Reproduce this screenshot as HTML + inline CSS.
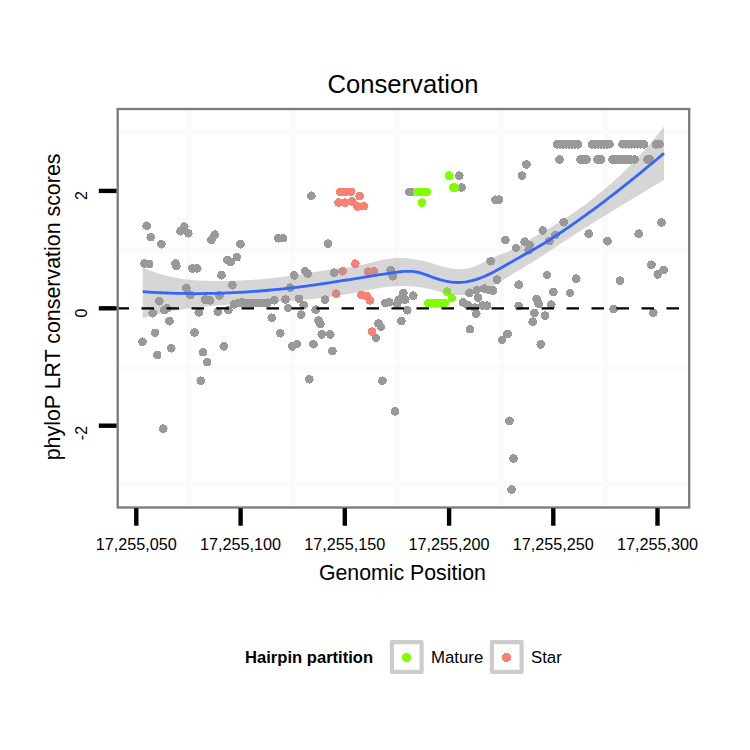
<!DOCTYPE html>
<html><head><meta charset="utf-8"><title>Conservation</title>
<style>html,body{margin:0;padding:0;background:#fff;width:750px;height:750px;overflow:hidden}svg{display:block}</style>
</head><body>
<svg width="750" height="750" viewBox="0 0 750 750">
<rect width="750" height="750" fill="#fff"/>
<g stroke="#fafafa" stroke-width="5"><line x1="188.4" y1="109.0" x2="188.4" y2="507.5"/><line x1="292.7" y1="109.0" x2="292.7" y2="507.5"/><line x1="397.0" y1="109.0" x2="397.0" y2="507.5"/><line x1="501.2" y1="109.0" x2="501.2" y2="507.5"/><line x1="605.4" y1="109.0" x2="605.4" y2="507.5"/><line x1="117.7" y1="132.2" x2="689.2" y2="132.2"/><line x1="117.7" y1="249.6" x2="689.2" y2="249.6"/><line x1="117.7" y1="367.0" x2="689.2" y2="367.0"/><line x1="117.7" y1="484.4" x2="689.2" y2="484.4"/></g>
<g fill="#999999" shape-rendering="crispEdges"><circle cx="146.7" cy="225.8" r="4.35"/>
<circle cx="150.8" cy="237.2" r="4.35"/>
<circle cx="161.3" cy="244.2" r="4.35"/>
<circle cx="184.3" cy="226.7" r="4.35"/>
<circle cx="180.5" cy="231.3" r="4.35"/>
<circle cx="188.3" cy="233.3" r="4.35"/>
<circle cx="214.7" cy="234.7" r="4.35"/>
<circle cx="211.3" cy="240.0" r="4.35"/>
<circle cx="240.5" cy="244.2" r="4.35"/>
<circle cx="144.4" cy="263.6" r="4.35"/>
<circle cx="149.2" cy="264.1" r="4.35"/>
<circle cx="175.6" cy="263.6" r="4.35"/>
<circle cx="176.4" cy="266.0" r="4.35"/>
<circle cx="192.4" cy="268.4" r="4.35"/>
<circle cx="197.2" cy="268.4" r="4.35"/>
<circle cx="227.3" cy="259.9" r="4.35"/>
<circle cx="230.8" cy="262.0" r="4.35"/>
<circle cx="236.9" cy="257.2" r="4.35"/>
<circle cx="221.5" cy="275.3" r="4.35"/>
<circle cx="186.3" cy="288.0" r="4.35"/>
<circle cx="190.5" cy="294.8" r="4.35"/>
<circle cx="232.4" cy="285.2" r="4.35"/>
<circle cx="159.3" cy="301.2" r="4.35"/>
<circle cx="166.8" cy="308.4" r="4.35"/>
<circle cx="164.4" cy="310.0" r="4.35"/>
<circle cx="152.7" cy="313.2" r="4.35"/>
<circle cx="169.5" cy="321.2" r="4.35"/>
<circle cx="205.2" cy="299.6" r="4.35"/>
<circle cx="210.0" cy="300.4" r="4.35"/>
<circle cx="219.6" cy="295.6" r="4.35"/>
<circle cx="198.8" cy="312.4" r="4.35"/>
<circle cx="217.7" cy="311.6" r="4.35"/>
<circle cx="228.4" cy="310.0" r="4.35"/>
<circle cx="234.0" cy="304.4" r="4.35"/>
<circle cx="242.0" cy="302.0" r="4.35"/>
<circle cx="155.1" cy="332.9" r="4.35"/>
<circle cx="194.5" cy="332.4" r="4.35"/>
<circle cx="142.5" cy="341.7" r="4.35"/>
<circle cx="171.3" cy="348.3" r="4.35"/>
<circle cx="157.2" cy="355.0" r="4.35"/>
<circle cx="223.8" cy="346.3" r="4.35"/>
<circle cx="203.0" cy="352.2" r="4.35"/>
<circle cx="207.2" cy="362.2" r="4.35"/>
<circle cx="200.8" cy="380.8" r="4.35"/>
<circle cx="163.3" cy="428.7" r="4.35"/>
<circle cx="239.0" cy="302.8" r="4.35"/>
<circle cx="243.0" cy="302.8" r="4.35"/>
<circle cx="247.0" cy="302.8" r="4.35"/>
<circle cx="251.0" cy="302.8" r="4.35"/>
<circle cx="255.0" cy="302.8" r="4.35"/>
<circle cx="259.0" cy="302.8" r="4.35"/>
<circle cx="263.0" cy="302.8" r="4.35"/>
<circle cx="267.5" cy="302.8" r="4.35"/>
<circle cx="274.3" cy="300.3" r="4.35"/>
<circle cx="285.5" cy="299.5" r="4.35"/>
<circle cx="299.0" cy="298.8" r="4.35"/>
<circle cx="303.7" cy="305.0" r="4.35"/>
<circle cx="288.0" cy="308.0" r="4.35"/>
<circle cx="301.2" cy="314.7" r="4.35"/>
<circle cx="315.7" cy="309.7" r="4.35"/>
<circle cx="271.8" cy="317.8" r="4.35"/>
<circle cx="318.5" cy="320.5" r="4.35"/>
<circle cx="320.3" cy="324.0" r="4.35"/>
<circle cx="280.3" cy="333.3" r="4.35"/>
<circle cx="292.3" cy="346.4" r="4.35"/>
<circle cx="297.0" cy="344.0" r="4.35"/>
<circle cx="313.4" cy="344.3" r="4.35"/>
<circle cx="321.7" cy="334.4" r="4.35"/>
<circle cx="330.3" cy="334.4" r="4.35"/>
<circle cx="332.3" cy="351.0" r="4.35"/>
<circle cx="309.3" cy="379.3" r="4.35"/>
<circle cx="278.3" cy="238.3" r="4.35"/>
<circle cx="283.0" cy="238.1" r="4.35"/>
<circle cx="328.1" cy="243.7" r="4.35"/>
<circle cx="311.3" cy="195.8" r="4.35"/>
<circle cx="294.3" cy="275.4" r="4.35"/>
<circle cx="305.0" cy="271.0" r="4.35"/>
<circle cx="307.7" cy="273.7" r="4.35"/>
<circle cx="334.3" cy="272.7" r="4.35"/>
<circle cx="290.3" cy="287.7" r="4.35"/>
<circle cx="325.0" cy="299.7" r="4.35"/>
<circle cx="390.7" cy="270.3" r="4.35"/>
<circle cx="392.7" cy="276.3" r="4.35"/>
<circle cx="385.3" cy="303.0" r="4.35"/>
<circle cx="389.3" cy="302.3" r="4.35"/>
<circle cx="398.7" cy="299.7" r="4.35"/>
<circle cx="403.3" cy="293.0" r="4.35"/>
<circle cx="405.3" cy="299.7" r="4.35"/>
<circle cx="413.3" cy="295.7" r="4.35"/>
<circle cx="397.3" cy="303.7" r="4.35"/>
<circle cx="407.3" cy="310.3" r="4.35"/>
<circle cx="378.4" cy="323.5" r="4.35"/>
<circle cx="381.0" cy="327.0" r="4.35"/>
<circle cx="401.3" cy="321.0" r="4.35"/>
<circle cx="376.0" cy="338.0" r="4.35"/>
<circle cx="382.4" cy="380.7" r="4.35"/>
<circle cx="394.9" cy="411.3" r="4.35"/>
<circle cx="409.5" cy="192.0" r="4.35"/>
<circle cx="411.5" cy="192.0" r="4.35"/>
<circle cx="459.3" cy="175.7" r="4.35"/>
<circle cx="461.6" cy="187.6" r="4.35"/>
<circle cx="495.5" cy="199.7" r="4.35"/>
<circle cx="499.0" cy="199.7" r="4.35"/>
<circle cx="526.4" cy="164.4" r="4.35"/>
<circle cx="522.1" cy="175.7" r="4.35"/>
<circle cx="542.7" cy="230.5" r="4.35"/>
<circle cx="490.7" cy="261.3" r="4.35"/>
<circle cx="497.0" cy="279.7" r="4.35"/>
<circle cx="505.3" cy="240.0" r="4.35"/>
<circle cx="516.0" cy="248.0" r="4.35"/>
<circle cx="518.7" cy="284.7" r="4.35"/>
<circle cx="518.7" cy="306.0" r="4.35"/>
<circle cx="469.4" cy="292.8" r="4.35"/>
<circle cx="476.9" cy="290.1" r="4.35"/>
<circle cx="484.3" cy="288.5" r="4.35"/>
<circle cx="489.7" cy="290.1" r="4.35"/>
<circle cx="493.0" cy="290.5" r="4.35"/>
<circle cx="477.9" cy="297.6" r="4.35"/>
<circle cx="463.0" cy="302.4" r="4.35"/>
<circle cx="468.3" cy="305.6" r="4.35"/>
<circle cx="474.7" cy="307.7" r="4.35"/>
<circle cx="476.3" cy="313.6" r="4.35"/>
<circle cx="482.5" cy="305.6" r="4.35"/>
<circle cx="487.0" cy="305.6" r="4.35"/>
<circle cx="470.0" cy="329.2" r="4.35"/>
<circle cx="507.5" cy="334.0" r="4.35"/>
<circle cx="502.0" cy="340.0" r="4.35"/>
<circle cx="524.7" cy="241.7" r="4.35"/>
<circle cx="530.0" cy="245.0" r="4.35"/>
<circle cx="528.7" cy="250.3" r="4.35"/>
<circle cx="536.7" cy="299.0" r="4.35"/>
<circle cx="538.7" cy="303.7" r="4.35"/>
<circle cx="534.4" cy="313.0" r="4.35"/>
<circle cx="532.7" cy="321.7" r="4.35"/>
<circle cx="540.7" cy="344.4" r="4.35"/>
<circle cx="509.5" cy="420.8" r="4.35"/>
<circle cx="513.5" cy="458.4" r="4.35"/>
<circle cx="511.6" cy="489.6" r="4.35"/>
<circle cx="563.7" cy="222.3" r="4.35"/>
<circle cx="555.3" cy="235.0" r="4.35"/>
<circle cx="549.3" cy="241.0" r="4.35"/>
<circle cx="547.0" cy="275.0" r="4.35"/>
<circle cx="553.3" cy="292.0" r="4.35"/>
<circle cx="570.0" cy="293.0" r="4.35"/>
<circle cx="551.3" cy="304.7" r="4.35"/>
<circle cx="545.0" cy="315.7" r="4.35"/>
<circle cx="576.3" cy="278.7" r="4.35"/>
<circle cx="588.7" cy="233.7" r="4.35"/>
<circle cx="607.5" cy="241.2" r="4.35"/>
<circle cx="638.7" cy="233.7" r="4.35"/>
<circle cx="661.5" cy="222.4" r="4.35"/>
<circle cx="651.4" cy="264.7" r="4.35"/>
<circle cx="663.7" cy="270.0" r="4.35"/>
<circle cx="657.7" cy="274.4" r="4.35"/>
<circle cx="620.0" cy="280.7" r="4.35"/>
<circle cx="613.7" cy="309.1" r="4.35"/>
<circle cx="653.3" cy="312.7" r="4.35"/>
<circle cx="559.6" cy="159.6" r="4.35"/>
<circle cx="557.0" cy="144.3" r="4.35"/>
<circle cx="560.0" cy="144.3" r="4.35"/>
<circle cx="563.0" cy="144.3" r="4.35"/>
<circle cx="566.0" cy="144.3" r="4.35"/>
<circle cx="569.0" cy="144.3" r="4.35"/>
<circle cx="572.0" cy="144.3" r="4.35"/>
<circle cx="575.0" cy="144.3" r="4.35"/>
<circle cx="578.0" cy="144.3" r="4.35"/>
<circle cx="592.0" cy="144.3" r="4.35"/>
<circle cx="595.0" cy="144.3" r="4.35"/>
<circle cx="598.0" cy="144.3" r="4.35"/>
<circle cx="601.0" cy="144.3" r="4.35"/>
<circle cx="604.0" cy="144.3" r="4.35"/>
<circle cx="607.0" cy="144.3" r="4.35"/>
<circle cx="609.5" cy="144.3" r="4.35"/>
<circle cx="622.5" cy="144.3" r="4.35"/>
<circle cx="625.5" cy="144.3" r="4.35"/>
<circle cx="628.5" cy="144.3" r="4.35"/>
<circle cx="631.5" cy="144.3" r="4.35"/>
<circle cx="634.5" cy="144.3" r="4.35"/>
<circle cx="637.5" cy="144.3" r="4.35"/>
<circle cx="640.5" cy="144.3" r="4.35"/>
<circle cx="644.0" cy="144.3" r="4.35"/>
<circle cx="656.0" cy="144.3" r="4.35"/>
<circle cx="659.5" cy="144.3" r="4.35"/>
<circle cx="580.5" cy="159.5" r="4.35"/>
<circle cx="583.5" cy="159.5" r="4.35"/>
<circle cx="586.5" cy="159.5" r="4.35"/>
<circle cx="597.5" cy="159.5" r="4.35"/>
<circle cx="601.0" cy="159.5" r="4.35"/>
<circle cx="612.5" cy="159.5" r="4.35"/>
<circle cx="615.5" cy="159.5" r="4.35"/>
<circle cx="618.5" cy="159.5" r="4.35"/>
<circle cx="621.5" cy="159.5" r="4.35"/>
<circle cx="624.5" cy="159.5" r="4.35"/>
<circle cx="627.5" cy="159.5" r="4.35"/>
<circle cx="630.5" cy="159.5" r="4.35"/>
<circle cx="634.5" cy="159.5" r="4.35"/>
<circle cx="647.5" cy="159.5" r="4.35"/>
<circle cx="650.0" cy="159.5" r="4.35"/></g>
<g fill="#fa8072" shape-rendering="crispEdges"><circle cx="340.5" cy="191.9" r="4.35"/>
<circle cx="345.5" cy="191.9" r="4.35"/>
<circle cx="351.0" cy="191.9" r="4.35"/>
<circle cx="359.6" cy="196.0" r="4.35"/>
<circle cx="338.6" cy="202.6" r="4.35"/>
<circle cx="345.0" cy="202.6" r="4.35"/>
<circle cx="352.2" cy="201.4" r="4.35"/>
<circle cx="357.4" cy="206.6" r="4.35"/>
<circle cx="363.8" cy="206.2" r="4.35"/>
<circle cx="355.3" cy="263.7" r="4.35"/>
<circle cx="342.7" cy="271.2" r="4.35"/>
<circle cx="368.0" cy="271.7" r="4.35"/>
<circle cx="374.0" cy="271.0" r="4.35"/>
<circle cx="336.3" cy="293.7" r="4.35"/>
<circle cx="361.3" cy="295.0" r="4.35"/>
<circle cx="366.7" cy="296.3" r="4.35"/>
<circle cx="370.0" cy="300.3" r="4.35"/>
<circle cx="372.0" cy="331.6" r="4.35"/></g>
<g fill="#7fff00" shape-rendering="crispEdges"><circle cx="417.5" cy="192.0" r="4.35"/>
<circle cx="420.5" cy="192.0" r="4.35"/>
<circle cx="423.5" cy="192.0" r="4.35"/>
<circle cx="426.5" cy="192.0" r="4.35"/>
<circle cx="422.0" cy="202.7" r="4.35"/>
<circle cx="449.3" cy="175.7" r="4.35"/>
<circle cx="453.5" cy="187.6" r="4.35"/>
<circle cx="455.0" cy="187.6" r="4.35"/>
<circle cx="428.5" cy="303.2" r="4.35"/>
<circle cx="431.5" cy="303.2" r="4.35"/>
<circle cx="434.5" cy="303.2" r="4.35"/>
<circle cx="437.5" cy="303.2" r="4.35"/>
<circle cx="440.5" cy="303.2" r="4.35"/>
<circle cx="444.5" cy="303.2" r="4.35"/>
<circle cx="447.0" cy="291.7" r="4.35"/>
<circle cx="451.8" cy="298.1" r="4.35"/></g>
<path d="M142.70,267.52 L145.70,268.83 L148.70,270.06 L151.70,271.20 L154.70,272.27 L157.70,273.26 L160.70,274.17 L163.70,275.02 L166.70,275.80 L169.70,276.51 L172.70,277.16 L175.70,277.75 L178.70,278.28 L181.70,278.75 L184.70,279.17 L187.70,279.54 L190.70,279.87 L193.70,280.14 L196.70,280.38 L199.70,280.57 L202.70,280.73 L205.70,280.85 L208.70,280.94 L211.70,281.00 L214.70,281.04 L217.70,281.04 L220.70,281.03 L223.70,281.00 L226.70,280.94 L229.70,280.87 L232.70,280.79 L235.70,280.68 L238.70,280.56 L241.70,280.42 L244.70,280.27 L247.70,280.10 L250.70,279.91 L253.70,279.70 L256.70,279.48 L259.70,279.24 L262.70,278.99 L265.70,278.72 L268.70,278.43 L271.70,278.13 L274.70,277.81 L277.70,277.47 L280.70,277.12 L283.70,276.75 L286.70,276.37 L289.70,275.97 L292.70,275.56 L295.70,275.13 L298.70,274.68 L301.70,274.22 L304.70,273.75 L307.70,273.26 L310.70,272.75 L313.70,272.23 L316.70,271.71 L319.70,271.18 L322.70,270.67 L325.70,270.17 L328.70,269.70 L331.70,269.28 L334.70,268.89 L337.70,268.54 L340.70,268.21 L343.70,267.88 L346.70,267.53 L349.70,267.14 L352.70,266.69 L355.70,266.16 L358.70,265.55 L361.70,264.89 L364.70,264.18 L367.70,263.44 L370.70,262.69 L373.70,261.94 L376.70,261.21 L379.70,260.52 L382.70,259.87 L385.70,259.30 L388.70,258.81 L391.70,258.41 L394.70,258.14 L397.70,257.99 L400.70,257.95 L403.70,258.04 L406.70,258.23 L409.70,258.53 L412.70,258.92 L415.70,259.40 L418.70,259.97 L421.70,260.61 L424.70,261.33 L427.70,262.11 L430.70,262.96 L433.70,263.85 L436.70,264.77 L439.70,265.67 L442.70,266.53 L445.70,267.33 L448.70,268.03 L451.70,268.60 L454.70,269.01 L457.70,269.23 L460.70,269.25 L463.70,269.03 L466.70,268.60 L469.70,267.95 L472.70,267.08 L475.70,266.00 L478.70,264.72 L481.70,263.29 L484.70,261.78 L487.70,260.24 L490.70,258.72 L493.70,257.28 L496.70,255.97 L499.70,254.78 L502.70,253.68 L505.70,252.58 L508.70,251.39 L511.70,250.06 L514.70,248.58 L517.70,246.94 L520.70,245.13 L523.70,243.22 L526.70,241.31 L529.70,239.45 L532.70,237.70 L535.70,236.01 L538.70,234.37 L541.70,232.74 L544.70,231.10 L547.70,229.35 L550.70,227.55 L553.70,225.73 L556.70,223.87 L559.70,221.99 L562.70,220.07 L565.70,218.12 L568.70,216.13 L571.70,214.11 L574.70,212.05 L577.70,209.95 L580.70,207.81 L583.70,205.63 L586.70,203.41 L589.70,201.14 L592.70,198.82 L595.70,196.46 L598.70,194.05 L601.70,191.58 L604.70,189.07 L607.70,186.50 L610.70,183.88 L613.70,181.20 L616.70,178.46 L619.70,175.67 L622.70,172.81 L625.70,169.89 L628.70,166.91 L631.70,163.86 L634.70,160.75 L637.70,157.57 L640.70,154.32 L643.70,151.00 L646.70,147.61 L649.70,144.14 L652.70,140.60 L655.70,136.99 L658.70,133.29 L661.70,129.52 L664.00,126.58 L664.00,179.98 L661.70,181.36 L658.70,183.16 L655.70,184.96 L652.70,186.76 L649.70,188.56 L646.70,190.35 L643.70,192.15 L640.70,193.95 L637.70,195.74 L634.70,197.54 L631.70,199.34 L628.70,201.15 L625.70,202.95 L622.70,204.76 L619.70,206.58 L616.70,208.39 L613.70,210.22 L610.70,212.04 L607.70,213.88 L604.70,215.71 L601.70,217.56 L598.70,219.41 L595.70,221.27 L592.70,223.14 L589.70,225.02 L586.70,226.90 L583.70,228.80 L580.70,230.70 L577.70,232.62 L574.70,234.55 L571.70,236.49 L568.70,238.44 L565.70,240.40 L562.70,242.37 L559.70,244.36 L556.70,246.36 L553.70,248.36 L550.70,250.37 L547.70,252.38 L544.70,254.38 L541.70,256.31 L538.70,258.20 L535.70,260.06 L532.70,261.91 L529.70,263.73 L526.70,265.56 L523.70,267.38 L520.70,269.21 L517.70,271.04 L514.70,272.87 L511.70,274.71 L508.70,276.55 L505.70,278.38 L502.70,280.20 L499.70,281.96 L496.70,283.66 L493.70,285.27 L490.70,286.81 L487.70,288.24 L484.70,289.57 L481.70,290.79 L478.70,291.88 L475.70,292.83 L472.70,293.64 L469.70,294.29 L466.70,294.78 L463.70,295.09 L460.70,295.21 L457.70,295.14 L454.70,294.88 L451.70,294.46 L448.70,293.90 L445.70,293.23 L442.70,292.49 L439.70,291.71 L436.70,290.91 L433.70,290.11 L430.70,289.36 L427.70,288.68 L424.70,288.08 L421.70,287.55 L418.70,287.10 L415.70,286.73 L412.70,286.43 L409.70,286.21 L406.70,286.06 L403.70,285.99 L400.70,285.99 L397.70,286.07 L394.70,286.23 L391.70,286.45 L388.70,286.75 L385.70,287.11 L382.70,287.52 L379.70,287.98 L376.70,288.48 L373.70,289.02 L370.70,289.58 L367.70,290.17 L364.70,290.76 L361.70,291.36 L358.70,291.96 L355.70,292.55 L352.70,293.13 L349.70,293.69 L346.70,294.23 L343.70,294.75 L340.70,295.25 L337.70,295.73 L334.70,296.19 L331.70,296.64 L328.70,297.06 L325.70,297.47 L322.70,297.86 L319.70,298.23 L316.70,298.58 L313.70,298.92 L310.70,299.24 L307.70,299.54 L304.70,299.82 L301.70,300.09 L298.70,300.34 L295.70,300.58 L292.70,300.81 L289.70,301.03 L286.70,301.24 L283.70,301.43 L280.70,301.62 L277.70,301.80 L274.70,301.97 L271.70,302.14 L268.70,302.31 L265.70,302.47 L262.70,302.63 L259.70,302.78 L256.70,302.94 L253.70,303.09 L250.70,303.25 L247.70,303.41 L244.70,303.58 L241.70,303.74 L238.70,303.92 L235.70,304.10 L232.70,304.28 L229.70,304.48 L226.70,304.68 L223.70,304.90 L220.70,305.13 L217.70,305.36 L214.70,305.62 L211.70,305.88 L208.70,306.17 L205.70,306.46 L202.70,306.78 L199.70,307.11 L196.70,307.47 L193.70,307.84 L190.70,308.23 L187.70,308.65 L184.70,309.09 L181.70,309.56 L178.70,310.05 L175.70,310.56 L172.70,311.10 L169.70,311.68 L166.70,312.28 L163.70,312.91 L160.70,313.57 L157.70,314.26 L154.70,314.99 L151.70,315.75 L148.70,316.55 L145.70,317.38 L142.70,318.25 Z" fill="#999999" fill-opacity="0.4"/>
<path d="M142.70,291.70 L145.70,291.91 L148.70,292.10 L151.70,292.28 L154.70,292.45 L157.70,292.61 L160.70,292.75 L163.70,292.88 L166.70,293.00 L169.70,293.11 L172.70,293.21 L175.70,293.29 L178.70,293.36 L181.70,293.43 L184.70,293.47 L187.70,293.51 L190.70,293.54 L193.70,293.55 L196.70,293.55 L199.70,293.55 L202.70,293.53 L205.70,293.49 L208.70,293.45 L211.70,293.40 L214.70,293.33 L217.70,293.25 L220.70,293.16 L223.70,293.06 L226.70,292.95 L229.70,292.83 L232.70,292.70 L235.70,292.55 L238.70,292.40 L241.70,292.23 L244.70,292.06 L247.70,291.87 L250.70,291.67 L253.70,291.46 L256.70,291.24 L259.70,291.01 L262.70,290.77 L265.70,290.51 L268.70,290.25 L271.70,289.98 L274.70,289.69 L277.70,289.40 L280.70,289.09 L283.70,288.78 L286.70,288.45 L289.70,288.12 L292.70,287.77 L295.70,287.41 L298.70,287.05 L301.70,286.67 L304.70,286.28 L307.70,285.89 L310.70,285.48 L313.70,285.06 L316.70,284.63 L319.70,284.20 L322.70,283.76 L325.70,283.31 L328.70,282.85 L331.70,282.38 L334.70,281.92 L337.70,281.44 L340.70,280.97 L343.70,280.49 L346.70,280.00 L349.70,279.52 L352.70,279.03 L355.70,278.55 L358.70,278.06 L361.70,277.58 L364.70,277.09 L367.70,276.61 L370.70,276.14 L373.70,275.66 L376.70,275.19 L379.70,274.73 L382.70,274.27 L385.70,273.82 L388.70,273.37 L391.70,272.94 L394.70,272.51 L397.70,272.10 L400.70,271.74 L403.70,271.46 L406.70,271.30 L409.70,271.28 L412.70,271.44 L415.70,271.81 L418.70,272.42 L421.70,273.28 L424.70,274.30 L427.70,275.42 L430.70,276.54 L433.70,277.62 L436.70,278.62 L439.70,279.55 L442.70,280.37 L445.70,281.08 L448.70,281.66 L451.70,282.10 L454.70,282.39 L457.70,282.51 L460.70,282.44 L463.70,282.19 L466.70,281.77 L469.70,281.18 L472.70,280.45 L475.70,279.57 L478.70,278.57 L481.70,277.44 L484.70,276.20 L487.70,274.86 L490.70,273.44 L493.70,271.93 L496.70,270.35 L499.70,268.72 L502.70,267.03 L505.70,265.31 L508.70,263.57 L511.70,261.84 L514.70,260.11 L517.70,258.40 L520.70,256.70 L523.70,255.02 L526.70,253.34 L529.70,251.67 L532.70,249.99 L535.70,248.29 L538.70,246.55 L541.70,244.78 L544.70,242.95 L547.70,241.06 L550.70,239.13 L553.70,237.19 L556.70,235.22 L559.70,233.23 L562.70,231.22 L565.70,229.19 L568.70,227.13 L571.70,225.06 L574.70,222.97 L577.70,220.86 L580.70,218.73 L583.70,216.58 L586.70,214.41 L589.70,212.22 L592.70,210.02 L595.70,207.80 L598.70,205.56 L601.70,203.30 L604.70,201.03 L607.70,198.74 L610.70,196.44 L613.70,194.12 L616.70,191.78 L619.70,189.44 L622.70,187.07 L625.70,184.70 L628.70,182.30 L631.70,179.90 L634.70,177.48 L637.70,175.05 L640.70,172.61 L643.70,170.15 L646.70,167.69 L649.70,165.21 L652.70,162.72 L655.70,160.22 L658.70,157.71 L661.70,155.19 L664.00,153.25" fill="none" stroke="#3366ff" stroke-width="2.8"/>
<line x1="116.5" y1="308.3" x2="688" y2="308.3" stroke="#000" stroke-width="2.3" stroke-dasharray="12.5 12.5"/>
<rect x="117.7" y="109.0" width="571.5" height="398.5" fill="none" stroke="#7a7a7a" stroke-width="2.3"/>
<g stroke="#000" stroke-width="4.4"><line x1="136.3" y1="508.2" x2="136.3" y2="525.7"/><line x1="240.6" y1="508.2" x2="240.6" y2="525.7"/><line x1="344.8" y1="508.2" x2="344.8" y2="525.7"/><line x1="449.1" y1="508.2" x2="449.1" y2="525.7"/><line x1="553.3" y1="508.2" x2="553.3" y2="525.7"/><line x1="657.5" y1="508.2" x2="657.5" y2="525.7"/><line x1="98.8" y1="190.9" x2="116.5" y2="190.9"/><line x1="98.8" y1="308.3" x2="116.5" y2="308.3"/><line x1="98.8" y1="425.7" x2="116.5" y2="425.7"/></g>
<text x="403" y="93.3" text-anchor="middle" font-size="25.6" font-family="'Liberation Sans', sans-serif">Conservation</text>
<text x="402.4" y="579.8" text-anchor="middle" font-size="21.3" font-family="'Liberation Sans', sans-serif">Genomic Position</text>
<text transform="translate(59.9,306.9) rotate(-90)" text-anchor="middle" font-size="21.4" font-family="'Liberation Sans', sans-serif">phyloP LRT conservation scores</text>
<text x="136.3" y="550.2" text-anchor="middle" font-size="16.2" font-family="'Liberation Sans', sans-serif">17,255,050</text>
<text x="240.6" y="550.2" text-anchor="middle" font-size="16.2" font-family="'Liberation Sans', sans-serif">17,255,100</text>
<text x="344.8" y="550.2" text-anchor="middle" font-size="16.2" font-family="'Liberation Sans', sans-serif">17,255,150</text>
<text x="449.1" y="550.2" text-anchor="middle" font-size="16.2" font-family="'Liberation Sans', sans-serif">17,255,200</text>
<text x="553.3" y="550.2" text-anchor="middle" font-size="16.2" font-family="'Liberation Sans', sans-serif">17,255,250</text>
<text x="657.5" y="550.2" text-anchor="middle" font-size="16.2" font-family="'Liberation Sans', sans-serif">17,255,300</text>
<text transform="translate(87.4,191.1) rotate(-90)" text-anchor="end" font-size="16" font-family="'Liberation Sans', sans-serif">2</text>
<text transform="translate(87.4,308.5) rotate(-90)" text-anchor="end" font-size="16" font-family="'Liberation Sans', sans-serif">0</text>
<text transform="translate(87.4,425.9) rotate(-90)" text-anchor="end" font-size="16" font-family="'Liberation Sans', sans-serif">-2</text>
<text x="245" y="663.3" font-size="16.6" font-weight="bold" font-family="'Liberation Sans', sans-serif">Hairpin partition</text>
<rect x="391.9" y="642.2" width="29.7" height="29.7" fill="#fff" stroke="#cccccc" stroke-width="4.2" stroke-linejoin="round"/>
<circle cx="406.6" cy="657.4" r="4.6" fill="#7fff00" shape-rendering="crispEdges"/>
<text x="431" y="663" font-size="16.8" font-family="'Liberation Sans', sans-serif">Mature</text>
<rect x="491.9" y="642.2" width="29.7" height="29.7" fill="#fff" stroke="#cccccc" stroke-width="4.2" stroke-linejoin="round"/>
<circle cx="506.5" cy="657.4" r="4.6" fill="#fa8072" shape-rendering="crispEdges"/>
<text x="531" y="663" font-size="16.8" font-family="'Liberation Sans', sans-serif">Star</text>
</svg>
</body></html>
